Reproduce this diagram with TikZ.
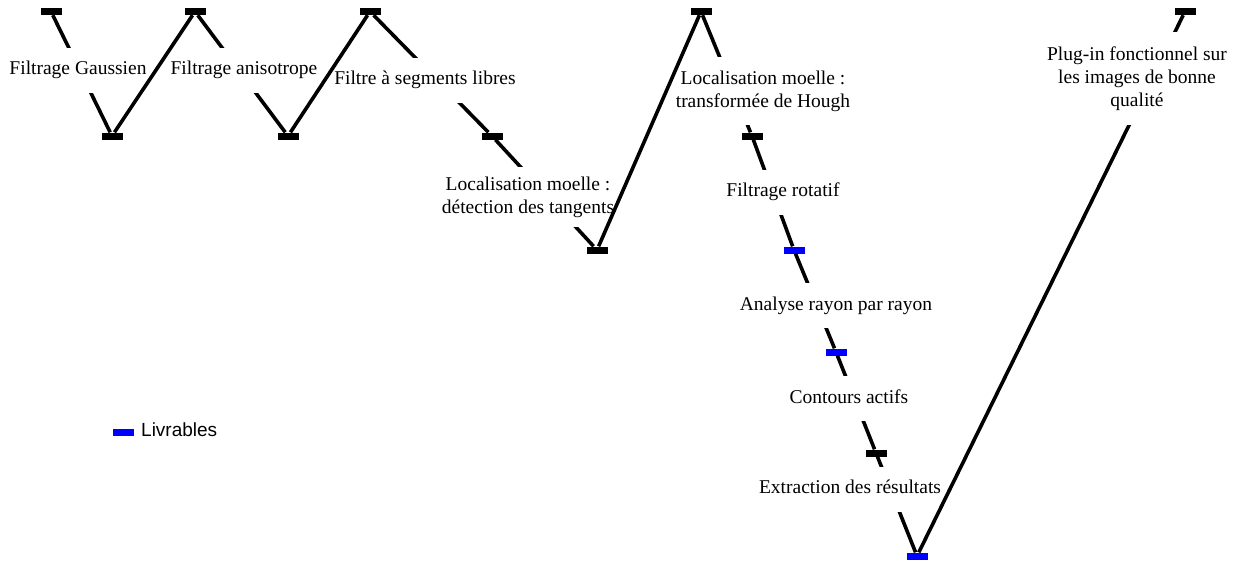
\documentclass[tikz,border=0pt]{standalone}
\usepackage{fontspec}
\setmainfont{Liberation Serif}
\setsansfont{Liberation Sans}
\begin{document}
\begin{tikzpicture}[x=1pt,y=-1pt,
  leg/.style={line width=3.6pt},
  tick/.style={rectangle, fill=black, inner sep=0pt, minimum width=21pt, minimum height=7pt},
  deliv/.style={tick, fill=blue},
  lbl/.style={rectangle, fill=white, inner xsep=2pt, inner ysep=0pt, align=center,
              font=\fontsize{19.5}{23}\selectfont},
  one/.style={lbl, text height=14pt, text depth=5pt, minimum height=45pt},
]
\useasboundingbox (0,0) rectangle (1239,560);

% milestone bars
\node[tick]  (T1) at (51,11.5)  {};
\node[tick]  (V1) at (112,136)  {};
\node[tick]  (T2) at (195,11.5) {};
\node[tick]  (V2) at (288,136)  {};
\node[tick]  (T3) at (370,11.5) {};
\node[tick]  (K1) at (492,136)  {};
\node[tick]  (V3) at (597,250)  {};
\node[tick]  (T4) at (701,11.5) {};
\node[tick]  (K2) at (752,136)  {};
\node[deliv] (K3) at (794,250)  {};
\node[deliv] (K4) at (836,352)  {};
\node[tick]  (K5) at (876,453)  {};
\node[deliv] (V4) at (917,556)  {};
\node[tick]  (T5) at (1185,11.5) {};

% descending legs, partly hidden by their step labels
\draw[leg] (T1) -- (V1);
\draw[leg] (T2) -- (V2);
\draw[leg] (T3) -- (K1) -- (V3);
\draw[leg] (T4) -- (K2) -- (K3) -- (K4) -- (K5) -- (V4);

% step labels
\node[one] (L1) at (78,70)  {Filtrage Gaussien};
\node[one] (L2) at (244,70) {Filtrage anisotrope};
\node[one] (L3) at (425,80) {Filtre à segments libres};
\node[lbl, minimum height=60pt] (L4) at (528,197) {Localisation moelle :\\détection des tangents};
\node[lbl, minimum height=68pt] (L5) at (763,91) {Localisation moelle :\\transformée de Hough};
\node[one] (L6) at (783,192)   {Filtrage rotatif};
\node[one] (L7) at (836,305.5) {Analyse rayon par rayon};
\node[one] (L8) at (849,398.5) {Contours actifs};
\node[one] (L9) at (850,489)   {Extraction des résultats};

% ascending legs
\draw[leg] (V1) -- (T2);
\draw[leg] (V2) -- (T3);
\draw[leg] (V3) -- (T4);
\draw[leg] (V4) -- (T5);

\node[lbl, minimum height=93pt] (L10) at (1137,78.5) {Plug-in fonctionnel sur\\les images de bonne\\qualité};

% legend
\node[deliv] (key) at (123,432) {};
\node[anchor=west, inner sep=0pt, font=\sffamily\fontsize{19}{22}\selectfont] (keytext) at (141,430) {Livrables};
\end{tikzpicture}
\end{document}
